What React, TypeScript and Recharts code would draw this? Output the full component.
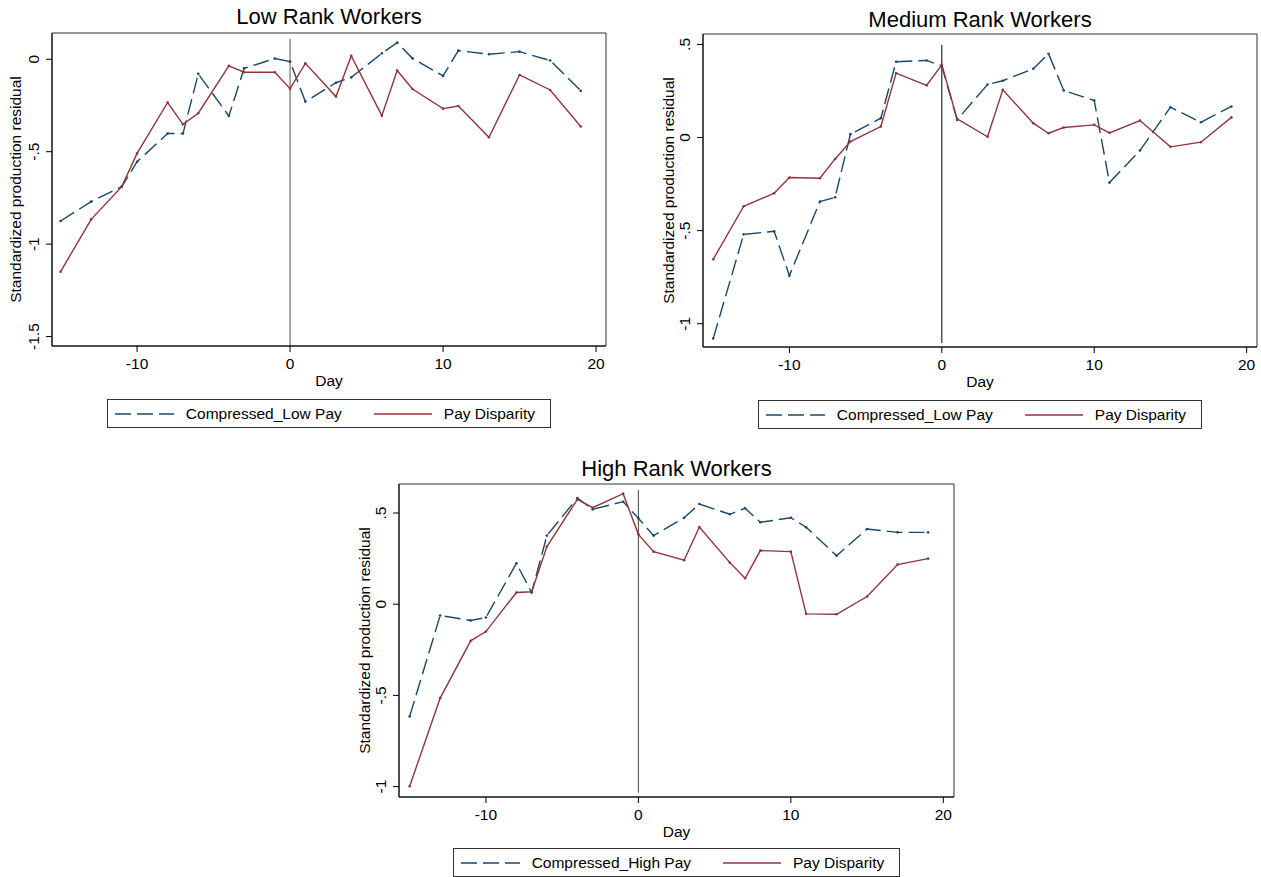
import React from 'react';
import { LineChart, Line, XAxis, YAxis, ReferenceLine, ReferenceArea, Legend } from 'recharts';

// event-time days, shared by all three panels
const days = [-15, -13, -11, -10, -8, -7, -6, -4, -3, -1, 0, 1, 3, 4, 6, 7, 8, 10, 11, 13, 15, 17, 19];
const xTicks = [-10, 0, 10, 20];

const lowCompressed = [-0.875, -0.77, -0.689, -0.554, -0.402, -0.402, -0.079, -0.307, -0.049, 0.004, -0.013, -0.229, -0.127, -0.098, 0.032, 0.09, 0.005, -0.09, 0.047, 0.027, 0.041, -0.007, -0.17];
const lowDisparity = [-1.149, -0.866, -0.689, -0.509, -0.234, -0.352, -0.292, -0.036, -0.07, -0.07, -0.159, -0.022, -0.202, 0.018, -0.305, -0.061, -0.161, -0.267, -0.253, -0.422, -0.085, -0.166, -0.364];

const mediumCompressed = [-1.079, -0.52, -0.504, -0.742, -0.344, -0.321, 0.018, 0.104, 0.407, 0.414, 0.385, 0.095, 0.285, 0.305, 0.369, 0.45, 0.253, 0.199, -0.242, -0.07, 0.163, 0.082, 0.167];
const mediumDisparity = [-0.654, -0.369, -0.299, -0.215, -0.219, -0.115, -0.022, 0.059, 0.346, 0.28, 0.391, 0.1, 0.004, 0.256, 0.077, 0.023, 0.054, 0.068, 0.025, 0.091, -0.05, -0.025, 0.108];

const highCompressed = [-0.615, -0.062, -0.089, -0.073, 0.224, 0.064, 0.376, 0.582, 0.52, 0.562, 0.471, 0.376, 0.474, 0.549, 0.493, 0.526, 0.449, 0.474, 0.422, 0.266, 0.412, 0.394, 0.394];
const highDisparity = [-0.998, -0.515, -0.201, -0.15, 0.064, 0.068, 0.316, 0.575, 0.529, 0.606, 0.383, 0.288, 0.241, 0.423, 0.228, 0.142, 0.294, 0.288, -0.053, -0.055, 0.042, 0.217, 0.25];

const lowYTicks = [-1.5, -1, -0.5, 0];
const upperYTicks = [-1, -0.5, 0, 0.5];

const NAVY = '#1a476f';
const MAROON = '#90353b';
const FONT = "'Liberation Sans', Arial, sans-serif";
const FS = 15.5;

// stata style labels: -.5, .5, -1.5
const fmt = (v: number) => (v === 0 ? '0' : String(v).replace('0.', '.'));

const RotatedTick = (props: any) => {
  const { x, y, payload } = props;
  return (
    <text x={x} y={y} transform={`rotate(-90 ${x} ${y})`} textAnchor="middle" fontSize={FS} fill="#000">
      {fmt(payload.value)}
    </text>
  );
};

const LegendBox = ({ compressedName }: { compressedName: string }) => (
  <div
    style={{
      width: 'fit-content',
      margin: '0 auto',
      height: 29,
      boxSizing: 'border-box',
      border: '1px solid #333',
      background: '#fff',
      display: 'flex',
      alignItems: 'center',
      paddingLeft: 7,
      paddingRight: 15,
      fontSize: FS,
      color: '#000',
      fontFamily: FONT,
      whiteSpace: 'nowrap',
    }}
  >
    <svg width={59} height={10}>
      <line x1={0} y1={5} x2={59} y2={5} stroke={NAVY} strokeWidth={1.4} strokeDasharray="16 6" />
    </svg>
    <span style={{ marginLeft: 12 }}>{compressedName}</span>
    <svg width={58} height={10} style={{ marginLeft: 32 }}>
      <line x1={0} y1={5} x2={58} y2={5} stroke={MAROON} strokeWidth={1.4} />
    </svg>
    <span style={{ marginLeft: 12 }}>Pay Disparity</span>
  </div>
);

interface PanelProps {
  title: string;
  compressedName: string;
  compressed: number[];
  disparity: number[];
  yTicks: number[];
  yDomain: [number, number];
  xDomain: [number, number];
  lineSpan: [number, number];
  lineColor: string;
  left: number;
  top: number;
  width: number;
  height: number;
  margin: { top: number; right: number; bottom: number; left: number };
  yAxisWidth: number;
  xAxisHeight: number;
  yTitleX: number;
  titleTop: number;
}

const Panel: React.FC<PanelProps> = (p) => {
  const data = days.map((d, i) => ({ day: d, compressed: p.compressed[i], disparity: p.disparity[i] }));
  const plotLeft = p.margin.left + p.yAxisWidth;
  const plotWidth = p.width - plotLeft - p.margin.right;

  return (
    <div style={{ position: 'absolute', left: p.left, top: p.top, width: p.width, height: p.height, fontFamily: FONT }}>
      <div
        style={{
          position: 'absolute',
          left: plotLeft,
          width: plotWidth,
          top: p.titleTop,
          textAlign: 'center',
          fontSize: 22,
          lineHeight: '22px',
          color: '#000',
          whiteSpace: 'nowrap',
        }}
      >
        {p.title}
      </div>
      <LineChart width={p.width} height={p.height} data={data} margin={p.margin}>
        <XAxis
          dataKey="day"
          type="number"
          domain={p.xDomain}
          ticks={xTicks}
          allowDataOverflow
          height={p.xAxisHeight}
          stroke="#000"
          tickSize={6}
          tickMargin={6}
          tick={{ fill: '#000', fontSize: FS }}
          label={{ value: 'Day', position: 'insideBottom', offset: p.xAxisHeight - 40, fill: '#000', fontSize: FS }}
        />
        <YAxis
          type="number"
          domain={p.yDomain}
          ticks={p.yTicks}
          allowDataOverflow
          width={p.yAxisWidth}
          stroke="#000"
          tickSize={6}
          tickMargin={6.5}
          tick={<RotatedTick />}
          label={(lp: any) => {
            const vb = lp.viewBox;
            const cx = vb.x + p.yTitleX;
            const cy = vb.y + vb.height / 2;
            return (
              <text
                x={cx}
                y={cy}
                transform={`rotate(-90 ${cx} ${cy})`}
                textAnchor="middle"
                dominantBaseline="central"
                fontSize={FS}
                fill="#000"
              >
                Standardized production residual
              </text>
            );
          }}
        />
        <ReferenceArea
          x1={p.xDomain[0]}
          x2={p.xDomain[1]}
          y1={p.yDomain[0]}
          y2={p.yDomain[1]}
          fill="none"
          stroke="#333"
          strokeWidth={1}
          ifOverflow="visible"
        />
        <ReferenceLine
          segment={[
            { x: 0, y: p.lineSpan[0] },
            { x: 0, y: p.lineSpan[1] },
          ]}
          stroke={p.lineColor}
          strokeWidth={1}
          ifOverflow="visible"
        />
        <Line
          type="linear"
          dataKey="compressed"
          name={p.compressedName}
          stroke={NAVY}
          strokeWidth={1.4}
          strokeDasharray="16 6"
          dot={{ r: 1.3, fill: NAVY, stroke: 'none' }}
          activeDot={false}
          isAnimationActive={false}
        />
        <Line
          type="linear"
          dataKey="disparity"
          name="Pay Disparity"
          stroke={MAROON}
          strokeWidth={1.4}
          dot={{ r: 1.3, fill: MAROON, stroke: 'none' }}
          activeDot={false}
          isAnimationActive={false}
        />
        <Legend
          verticalAlign="bottom"
          content={() => <LegendBox compressedName={p.compressedName} />}
          wrapperStyle={{ left: plotLeft, width: plotWidth }}
        />
      </LineChart>
    </div>
  );
};

const App: React.FC = () => (
  <div style={{ position: 'absolute', left: 0, top: 0, width: 1261, height: 877, background: '#fff', overflow: 'hidden' }}>
    <Panel
      title="Low Rank Workers"
      compressedName="Compressed_Low Pay"
      compressed={lowCompressed}
      disparity={lowDisparity}
      yTicks={lowYTicks}
      yDomain={[-1.551, 0.142]}
      xDomain={[-15.56, 20.65]}
      lineSpan={[-1.551, 0.11]}
      lineColor="#555"
      left={0}
      top={0}
      width={620}
      height={440}
      margin={{ top: 33, right: 14, bottom: 12, left: 0 }}
      yAxisWidth={52}
      xAxisHeight={53}
      yTitleX={15.5}
      titleTop={6.4}
    />
    <Panel
      title="Medium Rank Workers"
      compressedName="Compressed_Low Pay"
      compressed={mediumCompressed}
      disparity={mediumDisparity}
      yTicks={upperYTicks}
      yDomain={[-1.125, 0.556]}
      xDomain={[-15.67, 20.68]}
      lineSpan={[-1.104, 0.498]}
      lineColor="#000"
      left={650}
      top={0}
      width={611}
      height={440}
      margin={{ top: 34, right: 4, bottom: 11, left: 0 }}
      yAxisWidth={53}
      xAxisHeight={53}
      yTitleX={18}
      titleTop={8.7}
    />
    <Panel
      title="High Rank Workers"
      compressedName="Compressed_High Pay"
      compressed={highCompressed}
      disparity={highDisparity}
      yTicks={upperYTicks}
      yDomain={[-1.057, 0.659]}
      xDomain={[-15.7, 20.7]}
      lineSpan={[-1.033, 0.626]}
      lineColor="#444"
      left={347}
      top={450}
      width={620}
      height={427}
      margin={{ top: 34, right: 13, bottom: 0, left: 0 }}
      yAxisWidth={52}
      xAxisHeight={51}
      yTitleX={17.5}
      titleTop={8}
    />
  </div>
);

export default App;
